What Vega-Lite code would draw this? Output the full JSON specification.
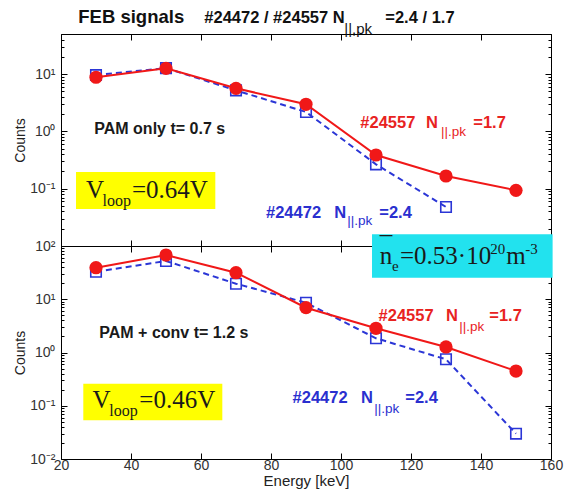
{
  "$schema": "https://vega.github.io/schema/vega-lite/v6.json",
  "background": "white",
  "padding": {"left": 13, "top": 8, "right": 5, "bottom": 5},
  "spacing": 0,
  "bounds": "flush",
  "config": {
    "view": {"stroke": null},
    "axis": {"domainColor": "black", "domainWidth": 1, "tickColor": "black", "tickWidth": 1, "labelFont": "Liberation Sans", "labelFontSize": 14, "labelColor": "#333333", "titleFont": "Liberation Sans", "titleFontSize": 14, "titleFontWeight": "normal", "titleColor": "#222222", "grid": false, "labelOverlap": false, "labelFlush": false}
  },
  "datasets": {
    "spectra": [
      {"panel": "top", "shot": "#24472", "E": 30, "counts": 9.6},
      {"panel": "top", "shot": "#24472", "E": 50, "counts": 12.7},
      {"panel": "top", "shot": "#24472", "E": 70, "counts": 5.2},
      {"panel": "top", "shot": "#24472", "E": 90, "counts": 2.18},
      {"panel": "top", "shot": "#24472", "E": 110, "counts": 0.266},
      {"panel": "top", "shot": "#24472", "E": 130, "counts": 0.048},
      {"panel": "top", "shot": "#24557", "E": 30, "counts": 8.8},
      {"panel": "top", "shot": "#24557", "E": 50, "counts": 12.6},
      {"panel": "top", "shot": "#24557", "E": 70, "counts": 5.64},
      {"panel": "top", "shot": "#24557", "E": 90, "counts": 2.97},
      {"panel": "top", "shot": "#24557", "E": 110, "counts": 0.387},
      {"panel": "top", "shot": "#24557", "E": 130, "counts": 0.1665},
      {"panel": "top", "shot": "#24557", "E": 150, "counts": 0.0937},
      {"panel": "bottom", "shot": "#24472", "E": 30, "counts": 32.9},
      {"panel": "bottom", "shot": "#24472", "E": 50, "counts": 52.3},
      {"panel": "bottom", "shot": "#24472", "E": 70, "counts": 19.6},
      {"panel": "bottom", "shot": "#24472", "E": 90, "counts": 8.61},
      {"panel": "bottom", "shot": "#24472", "E": 110, "counts": 1.85},
      {"panel": "bottom", "shot": "#24472", "E": 130, "counts": 0.745},
      {"panel": "bottom", "shot": "#24472", "E": 150, "counts": 0.0299},
      {"panel": "bottom", "shot": "#24557", "E": 30, "counts": 39.1},
      {"panel": "bottom", "shot": "#24557", "E": 50, "counts": 67.7},
      {"panel": "bottom", "shot": "#24557", "E": 70, "counts": 31.5},
      {"panel": "bottom", "shot": "#24557", "E": 90, "counts": 6.94},
      {"panel": "bottom", "shot": "#24557", "E": 110, "counts": 2.85},
      {"panel": "bottom", "shot": "#24557", "E": 130, "counts": 1.27},
      {"panel": "bottom", "shot": "#24557", "E": 150, "counts": 0.449}
    ]
  },
  "vconcat": [
    {
      "width": 490,
      "height": 212,
      "resolve": {"axis": {"x": "independent", "y": "independent"}},
      "layer": [
        {
          "data": {"values": [{"x1": 24.29, "x2": 64.09, "y1": 0.195, "y2": 0.0443}]},
          "mark": {"type": "rect", "color": "#ffff00"},
          "encoding": {
            "x": {"field": "x1", "type": "quantitative", "scale": {"domain": [20, 160], "nice": false, "zero": false}, "axis": null},
            "x2": {"field": "x2"},
            "y": {"field": "y1", "type": "quantitative", "scale": {"type": "log", "domain": [0.01, 50], "nice": false}, "axis": null},
            "y2": {"field": "y2"}
          }
        },
        {
          "data": {"name": "spectra"},
          "transform": [{"filter": "datum.panel === 'top' && datum.shot === '#24472'"}],
          "mark": {"type": "line", "color": "#2b36d6", "strokeWidth": 2, "strokeDash": [6, 4]},
          "encoding": {
            "x": {"field": "E", "type": "quantitative", "scale": {"domain": [20, 160], "nice": false, "zero": false},
              "axis": {"orient": "bottom", "values": [20, 40, 60, 80, 100, 120, 140, 160], "labels": false, "title": null, "tickSize": -6}},
            "y": {"field": "counts", "type": "quantitative", "scale": {"type": "log", "domain": [0.01, 50], "nice": false},
              "axis": {"orient": "left", "title": "Counts", "titlePadding": 2, "labelPadding": 12,
                "values": [0.01, 0.02, 0.03, 0.04, 0.05, 0.06, 0.07, 0.08, 0.09, 0.1, 0.2, 0.3, 0.4, 0.5, 0.6, 0.7, 0.8, 0.9, 1, 2, 3, 4, 5, 6, 7, 8, 9, 10, 20, 30, 40, 50],
                "labelExpr": "datum.value == 10 ? '10¹' : datum.value == 1 ? '10⁰' : datum.value == 0.1 ? '10⁻¹' : ''",
                "tickSize": {"condition": {"test": "abs(log(datum.value)/LN10 - round(log(datum.value)/LN10)) < 0.001", "value": -6}, "value": -3}}}
          }
        },
        {
          "data": {"name": "spectra"},
          "transform": [{"filter": "datum.panel === 'top' && datum.shot === '#24472'"}],
          "mark": {"type": "point", "shape": "square", "filled": false, "color": "#2b36d6", "size": 110, "strokeWidth": 1.6, "opacity": 1},
          "encoding": {
            "x": {"field": "E", "type": "quantitative", "scale": {"domain": [20, 160], "nice": false, "zero": false},
              "axis": {"orient": "top", "values": [20, 40, 60, 80, 100, 120, 140, 160], "labels": false, "title": null, "tickSize": -6}},
            "y": {"field": "counts", "type": "quantitative", "scale": {"type": "log", "domain": [0.01, 50], "nice": false},
              "axis": {"orient": "right", "title": null, "labels": false,
                "values": [0.01, 0.02, 0.03, 0.04, 0.05, 0.06, 0.07, 0.08, 0.09, 0.1, 0.2, 0.3, 0.4, 0.5, 0.6, 0.7, 0.8, 0.9, 1, 2, 3, 4, 5, 6, 7, 8, 9, 10, 20, 30, 40, 50],
                "tickSize": {"condition": {"test": "abs(log(datum.value)/LN10 - round(log(datum.value)/LN10)) < 0.001", "value": -6}, "value": -3}}}
          }
        },
        {
          "data": {"name": "spectra"},
          "transform": [{"filter": "datum.panel === 'top' && datum.shot === '#24557'"}],
          "mark": {"type": "line", "color": "#f01818", "strokeWidth": 2},
          "encoding": {
            "x": {"field": "E", "type": "quantitative", "axis": null},
            "y": {"field": "counts", "type": "quantitative", "axis": null}
          }
        },
        {
          "data": {"name": "spectra"},
          "transform": [{"filter": "datum.panel === 'top' && datum.shot === '#24557'"}],
          "mark": {"type": "point", "shape": "circle", "filled": true, "color": "#f01818", "size": 175, "opacity": 1},
          "encoding": {
            "x": {"field": "E", "type": "quantitative", "axis": null},
            "y": {"field": "counts", "type": "quantitative", "axis": null}
          }
        },
        {
          "data": {"values": [{"E": 29.51, "v": 0.9, "t": "PAM only t= 0.7 s"}]},
          "mark": {"type": "text", "align": "left", "baseline": "alphabetic", "font": "Liberation Sans", "fontWeight": "bold", "fontSize": 16, "color": "#1a1a1a"},
          "encoding": {"x": {"field": "E", "type": "quantitative", "axis": null}, "y": {"field": "v", "type": "quantitative", "axis": null}, "text": {"field": "t"}}
        },
        {
          "data": {"values": [{"E": 27.14, "v": 0.0697, "t": "V"}, {"E": 40.29, "v": 0.0697, "t": "=0.64V"}]},
          "mark": {"type": "text", "align": "left", "baseline": "alphabetic", "font": "Liberation Serif", "fontSize": 25, "color": "#1a1a1a"},
          "encoding": {"x": {"field": "E", "type": "quantitative", "axis": null}, "y": {"field": "v", "type": "quantitative", "axis": null}, "text": {"field": "t"}}
        },
        {
          "data": {"values": [{"E": 31.89, "v": 0.0499, "t": "loop"}]},
          "mark": {"type": "text", "align": "left", "baseline": "alphabetic", "font": "Liberation Serif", "fontSize": 16, "color": "#1a1a1a"},
          "encoding": {"x": {"field": "E", "type": "quantitative", "axis": null}, "y": {"field": "v", "type": "quantitative", "axis": null}, "text": {"field": "t"}}
        },
        {
          "data": {"values": [{"E": 105.51, "v": 1.159, "t": "#24557"}, {"E": 124.29, "v": 1.159, "t": "N"}, {"E": 137.8, "v": 1.159, "t": "=1.7"}]},
          "mark": {"type": "text", "align": "left", "baseline": "alphabetic", "font": "Liberation Sans", "fontWeight": "bold", "fontSize": 16.5, "color": "#e8231f"},
          "encoding": {"x": {"field": "E", "type": "quantitative", "axis": null}, "y": {"field": "v", "type": "quantitative", "axis": null}, "text": {"field": "t"}}
        },
        {
          "data": {"values": [{"E": 128.57, "v": 0.83, "t": "||.pk"}]},
          "mark": {"type": "text", "align": "left", "baseline": "alphabetic", "font": "Liberation Sans", "fontSize": 13.5, "color": "#e8231f"},
          "encoding": {"x": {"field": "E", "type": "quantitative", "axis": null}, "y": {"field": "v", "type": "quantitative", "axis": null}, "text": {"field": "t"}}
        },
        {
          "data": {"values": [{"E": 78.57, "v": 0.0312, "t": "#24472"}, {"E": 98.09, "v": 0.0312, "t": "N"}, {"E": 110.94, "v": 0.0312, "t": "=2.4"}]},
          "mark": {"type": "text", "align": "left", "baseline": "alphabetic", "font": "Liberation Sans", "fontWeight": "bold", "fontSize": 16.5, "color": "#2a2fcf"},
          "encoding": {"x": {"field": "E", "type": "quantitative", "axis": null}, "y": {"field": "v", "type": "quantitative", "axis": null}, "text": {"field": "t"}}
        },
        {
          "data": {"values": [{"E": 101.8, "v": 0.0232, "t": "||.pk"}]},
          "mark": {"type": "text", "align": "left", "baseline": "alphabetic", "font": "Liberation Sans", "fontSize": 13.5, "color": "#2a2fcf"},
          "encoding": {"x": {"field": "E", "type": "quantitative", "axis": null}, "y": {"field": "v", "type": "quantitative", "axis": null}, "text": {"field": "t"}}
        },
        {
          "data": {"values": [{"E": 24.94, "v": 76.9, "t": "FEB signals"}]},
          "mark": {"type": "text", "align": "left", "baseline": "alphabetic", "font": "Liberation Sans", "fontWeight": "bold", "fontSize": 18.5, "color": "#111111"},
          "encoding": {"x": {"field": "E", "type": "quantitative", "axis": null}, "y": {"field": "v", "type": "quantitative", "axis": null}, "text": {"field": "t"}}
        },
        {
          "data": {"values": [{"E": 60.94, "v": 76.9, "t": "#24472 / #24557 N"}, {"E": 112.66, "v": 76.9, "t": "=2.4 / 1.7"}]},
          "mark": {"type": "text", "align": "left", "baseline": "alphabetic", "font": "Liberation Sans", "fontWeight": "bold", "fontSize": 16.5, "color": "#111111"},
          "encoding": {"x": {"field": "E", "type": "quantitative", "axis": null}, "y": {"field": "v", "type": "quantitative", "axis": null}, "text": {"field": "t"}}
        },
        {
          "data": {"values": [{"E": 100.94, "v": 49.4, "t": "||,pk"}]},
          "mark": {"type": "text", "align": "left", "baseline": "alphabetic", "font": "Liberation Sans", "fontSize": 15, "color": "#111111"},
          "encoding": {"x": {"field": "E", "type": "quantitative", "axis": null}, "y": {"field": "v", "type": "quantitative", "axis": null}, "text": {"field": "t"}}
        }
      ]
    },
    {
      "width": 490,
      "height": 213,
      "resolve": {"axis": {"x": "independent", "y": "independent"}},
      "layer": [
        {
          "data": {"values": [{"x1": 26.37, "x2": 66.09, "y1": 0.2596, "y2": 0.0533}]},
          "mark": {"type": "rect", "color": "#ffff00"},
          "encoding": {
            "x": {"field": "x1", "type": "quantitative", "scale": {"domain": [20, 160], "nice": false, "zero": false}, "axis": null},
            "x2": {"field": "x2"},
            "y": {"field": "y1", "type": "quantitative", "scale": {"type": "log", "domain": [0.01, 100], "nice": false}, "axis": null},
            "y2": {"field": "y2"}
          }
        },
        {
          "data": {"name": "spectra"},
          "transform": [{"filter": "datum.panel === 'bottom' && datum.shot === '#24472'"}],
          "mark": {"type": "line", "color": "#2b36d6", "strokeWidth": 2, "strokeDash": [6, 4]},
          "encoding": {
            "x": {"field": "E", "type": "quantitative", "scale": {"domain": [20, 160], "nice": false, "zero": false},
              "axis": {"orient": "bottom", "values": [20, 40, 60, 80, 100, 120, 140, 160], "title": "Energy [keV]", "titleFontSize": 15, "titlePadding": 1, "labelPadding": 5, "tickSize": -6}},
            "y": {"field": "counts", "type": "quantitative", "scale": {"type": "log", "domain": [0.01, 100], "nice": false},
              "axis": {"orient": "left", "title": "Counts", "titlePadding": 2, "labelPadding": 12,
                "values": [0.01, 0.02, 0.03, 0.04, 0.05, 0.06, 0.07, 0.08, 0.09, 0.1, 0.2, 0.3, 0.4, 0.5, 0.6, 0.7, 0.8, 0.9, 1, 2, 3, 4, 5, 6, 7, 8, 9, 10, 20, 30, 40, 50, 60, 70, 80, 90, 100],
                "labelExpr": "datum.value == 100 ? '10²' : datum.value == 10 ? '10¹' : datum.value == 1 ? '10⁰' : datum.value == 0.1 ? '10⁻¹' : datum.value == 0.01 ? '10⁻²' : ''",
                "tickSize": {"condition": {"test": "abs(log(datum.value)/LN10 - round(log(datum.value)/LN10)) < 0.001", "value": -6}, "value": -3}}}
          }
        },
        {
          "data": {"name": "spectra"},
          "transform": [{"filter": "datum.panel === 'bottom' && datum.shot === '#24472'"}],
          "mark": {"type": "point", "shape": "square", "filled": false, "color": "#2b36d6", "size": 110, "strokeWidth": 1.6, "opacity": 1},
          "encoding": {
            "x": {"field": "E", "type": "quantitative", "scale": {"domain": [20, 160], "nice": false, "zero": false},
              "axis": {"orient": "top", "values": [20, 40, 60, 80, 100, 120, 140, 160], "labels": false, "title": null, "tickSize": -6}},
            "y": {"field": "counts", "type": "quantitative", "scale": {"type": "log", "domain": [0.01, 100], "nice": false},
              "axis": {"orient": "right", "title": null, "labels": false,
                "values": [0.01, 0.02, 0.03, 0.04, 0.05, 0.06, 0.07, 0.08, 0.09, 0.1, 0.2, 0.3, 0.4, 0.5, 0.6, 0.7, 0.8, 0.9, 1, 2, 3, 4, 5, 6, 7, 8, 9, 10, 20, 30, 40, 50, 60, 70, 80, 90, 100],
                "tickSize": {"condition": {"test": "abs(log(datum.value)/LN10 - round(log(datum.value)/LN10)) < 0.001", "value": -6}, "value": -3}}}
          }
        },
        {
          "data": {"name": "spectra"},
          "transform": [{"filter": "datum.panel === 'bottom' && datum.shot === '#24557'"}],
          "mark": {"type": "line", "color": "#f01818", "strokeWidth": 2},
          "encoding": {
            "x": {"field": "E", "type": "quantitative", "axis": null},
            "y": {"field": "counts", "type": "quantitative", "axis": null}
          }
        },
        {
          "data": {"name": "spectra"},
          "transform": [{"filter": "datum.panel === 'bottom' && datum.shot === '#24557'"}],
          "mark": {"type": "point", "shape": "circle", "filled": true, "color": "#f01818", "size": 175, "opacity": 1},
          "encoding": {
            "x": {"field": "E", "type": "quantitative", "axis": null},
            "y": {"field": "counts", "type": "quantitative", "axis": null}
          }
        },
        {
          "data": {"values": [{"x1": 108.86, "x2": 160.46, "y1": 165.9, "y2": 25.39}]},
          "mark": {"type": "rect", "color": "#22e2ee"},
          "encoding": {
            "x": {"field": "x1", "type": "quantitative", "axis": null},
            "x2": {"field": "x2"},
            "y": {"field": "y1", "type": "quantitative", "axis": null},
            "y2": {"field": "y2"}
          }
        },
        {
          "data": {"values": [{"E": 30.94, "v": 1.897, "t": "PAM + conv t= 1.2 s"}]},
          "mark": {"type": "text", "align": "left", "baseline": "alphabetic", "font": "Liberation Sans", "fontWeight": "bold", "fontSize": 16, "color": "#1a1a1a"},
          "encoding": {"x": {"field": "E", "type": "quantitative", "axis": null}, "y": {"field": "v", "type": "quantitative", "axis": null}, "text": {"field": "t"}}
        },
        {
          "data": {"values": [{"E": 29.03, "v": 0.0919, "t": "V"}, {"E": 42.37, "v": 0.0919, "t": "=0.46V"}]},
          "mark": {"type": "text", "align": "left", "baseline": "alphabetic", "font": "Liberation Serif", "fontSize": 25, "color": "#1a1a1a"},
          "encoding": {"x": {"field": "E", "type": "quantitative", "axis": null}, "y": {"field": "v", "type": "quantitative", "axis": null}, "text": {"field": "t"}}
        },
        {
          "data": {"values": [{"E": 33.8, "v": 0.0642, "t": "loop"}]},
          "mark": {"type": "text", "align": "left", "baseline": "alphabetic", "font": "Liberation Serif", "fontSize": 16, "color": "#1a1a1a"},
          "encoding": {"x": {"field": "E", "type": "quantitative", "axis": null}, "y": {"field": "v", "type": "quantitative", "axis": null}, "text": {"field": "t"}}
        },
        {
          "data": {"values": [{"E": 110.74, "v": 3.904, "t": "#24557"}, {"E": 130, "v": 3.904, "t": "N"}, {"E": 142.37, "v": 3.904, "t": "=1.7"}]},
          "mark": {"type": "text", "align": "left", "baseline": "alphabetic", "font": "Liberation Sans", "fontWeight": "bold", "fontSize": 16.5, "color": "#e8231f"},
          "encoding": {"x": {"field": "E", "type": "quantitative", "axis": null}, "y": {"field": "v", "type": "quantitative", "axis": null}, "text": {"field": "t"}}
        },
        {
          "data": {"values": [{"E": 133.8, "v": 2.533, "t": "||.pk"}]},
          "mark": {"type": "text", "align": "left", "baseline": "alphabetic", "font": "Liberation Sans", "fontSize": 13.5, "color": "#e8231f"},
          "encoding": {"x": {"field": "E", "type": "quantitative", "axis": null}, "y": {"field": "v", "type": "quantitative", "axis": null}, "text": {"field": "t"}}
        },
        {
          "data": {"values": [{"E": 86.17, "v": 0.1126, "t": "#24472"}, {"E": 105.71, "v": 0.1126, "t": "N"}, {"E": 118.37, "v": 0.1126, "t": "=2.4"}]},
          "mark": {"type": "text", "align": "left", "baseline": "alphabetic", "font": "Liberation Sans", "fontWeight": "bold", "fontSize": 16.5, "color": "#2a2fcf"},
          "encoding": {"x": {"field": "E", "type": "quantitative", "axis": null}, "y": {"field": "v", "type": "quantitative", "axis": null}, "text": {"field": "t"}}
        },
        {
          "data": {"values": [{"E": 109.51, "v": 0.074, "t": "||.pk"}]},
          "mark": {"type": "text", "align": "left", "baseline": "alphabetic", "font": "Liberation Sans", "fontSize": 13.5, "color": "#2a2fcf"},
          "encoding": {"x": {"field": "E", "type": "quantitative", "axis": null}, "y": {"field": "v", "type": "quantitative", "axis": null}, "text": {"field": "t"}}
        },
        {
          "data": {"values": [{"E": 111.06, "v": 45.33, "t": "n"}, {"E": 116.86, "v": 45.33, "t": "=0.53·10"}, {"E": 147.23, "v": 45.33, "t": "m"}]},
          "mark": {"type": "text", "align": "left", "baseline": "alphabetic", "font": "Liberation Serif", "fontSize": 25, "color": "#1a1a1a"},
          "encoding": {"x": {"field": "E", "type": "quantitative", "axis": null}, "y": {"field": "v", "type": "quantitative", "axis": null}, "text": {"field": "t"}}
        },
        {
          "data": {"values": [{"E": 111.06, "v": 70.7, "t": "¯"}]},
          "mark": {"type": "text", "align": "left", "baseline": "alphabetic", "font": "Liberation Serif", "fontSize": 25, "color": "#1a1a1a"},
          "encoding": {"x": {"field": "E", "type": "quantitative", "axis": null}, "y": {"field": "v", "type": "quantitative", "axis": null}, "text": {"field": "t"}}
        },
        {
          "data": {"values": [{"E": 142.66, "v": 69.85, "t": "20"}, {"E": 152.66, "v": 69.85, "t": "-3"}, {"E": 114.6, "v": 33.93, "t": "e"}]},
          "mark": {"type": "text", "align": "left", "baseline": "alphabetic", "font": "Liberation Serif", "fontSize": 15, "color": "#1a1a1a"},
          "encoding": {"x": {"field": "E", "type": "quantitative", "axis": null}, "y": {"field": "v", "type": "quantitative", "axis": null}, "text": {"field": "t"}}
        }
      ]
    }
  ]
}
